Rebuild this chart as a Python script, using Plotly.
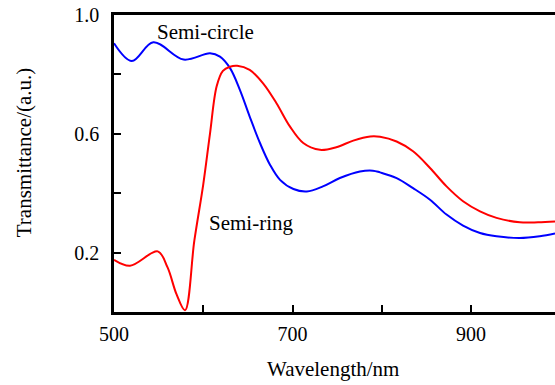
import plotly.graph_objects as go

# Semi-circle (blue)
wl_circle = [500, 520, 544, 578, 607.5, 618.7, 630, 641, 652, 663.5, 674.7, 686, 701, 716, 734, 753, 775.5,
             790, 798, 816.6, 835, 854, 872.5, 891, 910, 928.5, 954.6, 977, 994]
tr_circle = [0.905, 0.845, 0.908, 0.850, 0.871, 0.860, 0.821, 0.748, 0.658, 0.569, 0.496, 0.445, 0.414, 0.406,
             0.423, 0.451, 0.473, 0.476, 0.470, 0.451, 0.417, 0.378, 0.328, 0.291, 0.266, 0.255, 0.249, 0.255, 0.264]

# Semi-ring (red)
wl_ring = [500, 518, 549, 560, 570, 579.5, 590, 600, 607.5, 615, 622, 630, 638, 652, 667, 682, 697,
           712, 730.7, 749, 768, 787, 798, 816.6, 835, 854, 872.5, 891, 910, 928.5, 954.6, 975, 994]
tr_ring = [0.176, 0.156, 0.204, 0.150, 0.060, 0.006, 0.24, 0.43, 0.60, 0.76, 0.812, 0.826, 0.829,
           0.815, 0.770, 0.703, 0.625, 0.569, 0.546, 0.555, 0.577, 0.591, 0.590, 0.574, 0.541, 0.485, 0.423,
           0.373, 0.339, 0.317, 0.302, 0.302, 0.305]

x_ticks = [500, 600, 700, 800, 900]
x_ticktext = ["500", "", "700", "", "900"]
y_ticks = [0.2, 0.4, 0.6, 0.8, 1.0]
y_ticktext = ["0.2", "", "0.6", "", "1.0"]

FONT = "Times New Roman, Liberation Serif, DejaVu Serif, serif"

fig = go.Figure()
fig.add_trace(go.Scatter(x=wl_circle, y=tr_circle, mode="lines",
                         line=dict(color="#0000ff", width=2, shape="spline", smoothing=1.0),
                         showlegend=False))
fig.add_trace(go.Scatter(x=wl_ring, y=tr_ring, mode="lines",
                         line=dict(color="#ff0000", width=2, shape="spline", smoothing=1.0),
                         showlegend=False))

fig.update_layout(
    width=555, height=385,
    margin=dict(l=114, r=0, t=15, b=73),
    plot_bgcolor="white", paper_bgcolor="white",
    font=dict(family=FONT, size=20, color="black"),
    xaxis=dict(range=[500, 994], tickvals=x_ticks, ticktext=x_ticktext,
               ticks="inside", ticklen=7, tickwidth=2, tickcolor="black",
               tickfont=dict(family=FONT, size=20, color="black"),
               showline=True, linecolor="black", linewidth=2.5, mirror=True,
               showgrid=False, zeroline=False, ticklabelstandoff=2),
    yaxis=dict(range=[0, 1.0], tickvals=y_ticks, ticktext=y_ticktext,
               ticks="inside", ticklen=7, tickwidth=2, tickcolor="black",
               tickfont=dict(family=FONT, size=20, color="black"),
               showline=True, linecolor="black", linewidth=2.5,
               showgrid=False, zeroline=False, ticklabelstandoff=8),
    annotations=[
        dict(x=602, y=0.943, xref="x", yref="y", text="Semi-circle", showarrow=False,
             font=dict(family=FONT, size=21), xanchor="center", yanchor="middle"),
        dict(x=653, y=0.301, xref="x", yref="y", text="Semi-ring", showarrow=False,
             font=dict(family=FONT, size=21), xanchor="center", yanchor="middle"),
        dict(x=0.4955, y=-0.193, xref="paper", yref="paper", text="Wavelength/nm", showarrow=False,
             font=dict(family=FONT, size=21), xanchor="center", yanchor="middle"),
        dict(x=-0.204, y=0.538, xref="paper", yref="paper", text="Transmittance/(a.u.)", showarrow=False,
             font=dict(family=FONT, size=21), xanchor="center", yanchor="middle", textangle=-90),
    ],
)

fig.write_html("out.html")
